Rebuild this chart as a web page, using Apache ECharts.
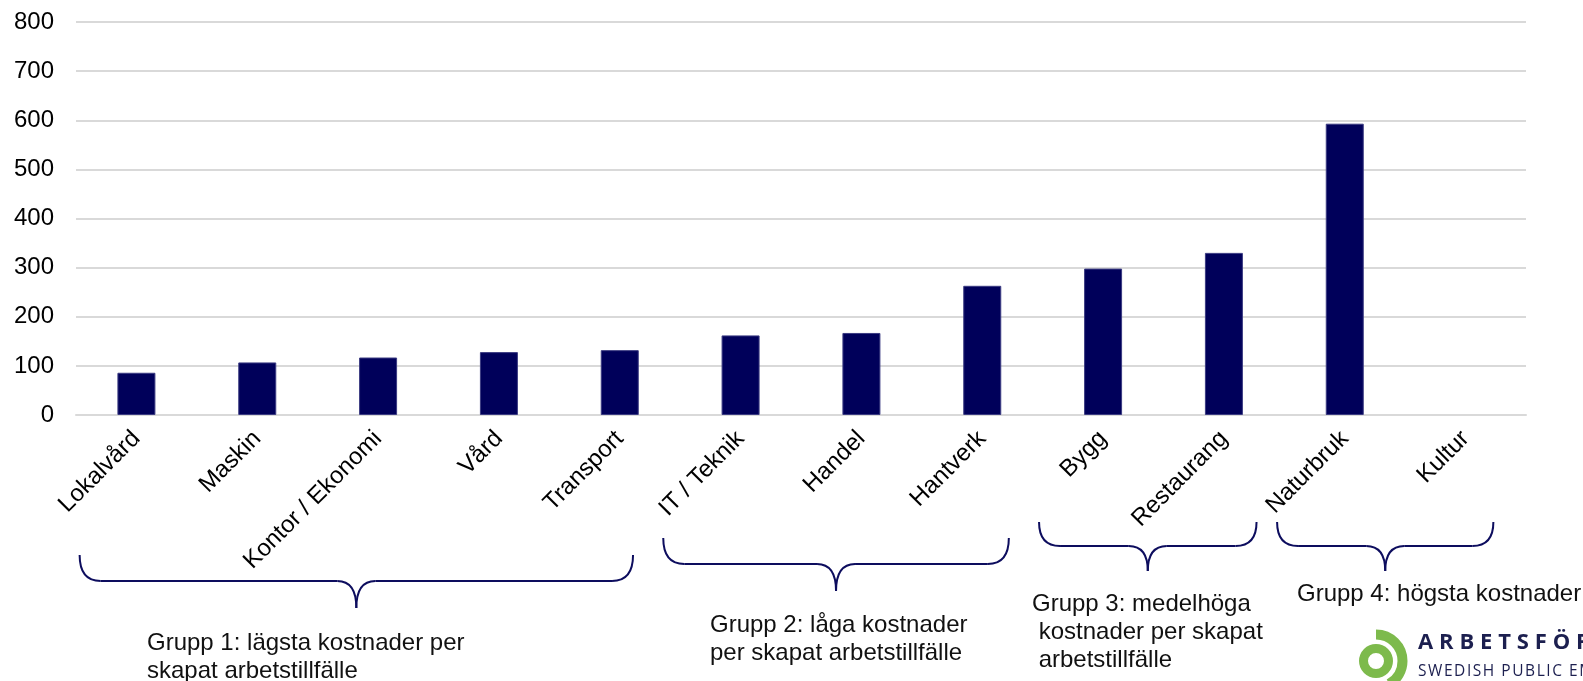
<!DOCTYPE html>
<html>
<head>
<meta charset="utf-8">
<title>Kostnad per skapat arbetstillfälle</title>
<script src="https://cdn.jsdelivr.net/npm/echarts@6/dist/echarts.min.js"></script>
<style>
html, body { margin: 0; padding: 0; background: #fff; }
#main { width: 1583px; height: 681px; }
</style>
</head>
<body>
<div id="main"></div>
<script>
// data
var yrken = ['Lokalvård', 'Maskin', 'Kontor / Ekonomi', 'Vård', 'Transport', 'IT / Teknik',
  'Handel', 'Hantverk', 'Bygg', 'Restaurang', 'Naturbruk', 'Kultur'];
var kostnad = [86, 107, 117, 128, 132, 162, 167, 263, 298, 330, 593, null];
var yMin = 0, yMax = 800, yStep = 100;

// grupper: första och sista yrke (index) + text
var gruppStart = [0, 5, 8, 10];
var gruppSlut = [4, 7, 9, 11];
var gruppText = [
  'Grupp 1: lägsta kostnader per\nskapat arbetstillfälle',
  'Grupp 2: låga kostnader\nper skapat arbetstillfälle',
  'Grupp 3: medelhöga\n kostnader per skapat\n arbetstillfälle',
  'Grupp 4: högsta kostnader'
];

var font = '"Liberation Sans", Arial, sans-serif';
var navy = '#0d0d5e';

var myChart = echarts.init(document.getElementById('main'));
var option = {
  animation: false,
  grid: {
    left: 76,
    right: 57,
    top: 22,
    bottom: 266,
    containLabel: false
  },
  xAxis: {
    type: 'category',
    data: yrken,
    axisTick: { show: false },
    axisLine: { lineStyle: { color: '#d9d9d9', width: 2 } },
    axisLabel: {
      interval: 0,
      rotate: 45,
      margin: 20,
      color: '#000',
      fontSize: 24,
      fontFamily: font
    }
  },
  yAxis: {
    type: 'value',
    min: yMin,
    max: yMax,
    interval: yStep,
    axisLine: { show: false },
    axisTick: { show: false },
    splitLine: { lineStyle: { color: '#d9d9d9', width: 2 } },
    axisLabel: {
      margin: 22,
      color: '#000',
      fontSize: 24,
      fontFamily: font
    }
  },
  series: [{
    type: 'bar',
    data: kostnad,
    barWidth: 38,
    itemStyle: {
      color: '#00005a',
      borderColor: '#3b3b82',
      borderWidth: 1
    }
  }]
};
myChart.setOption(option);

// klammerparenteser under axeln
var braceY = [[555, 581, 608], [538, 564, 591], [522, 546, 571], [522, 546, 571]];
var braceOff = [[-0.47, 0.11], [-0.64, 0.22], [-0.53, 0.27], [-0.56, 0.23]];
var textPos = [[147, 629], [710, 611], [1032, 590], [1297, 580]];

function px(i) {
  return myChart.convertToPixel({ xAxisIndex: 0 }, i);
}
var band = px(1) - px(0);

function brace(x0, x1, yt, yh, yb) {
  var xm = (x0 + x1) / 2, r = 21, t = 19;
  var ls = { stroke: navy, lineWidth: 2, fill: null };
  return [
    { type: 'bezierCurve', shape: { x1: x0, y1: yt, cpx1: x0, cpy1: yh, x2: x0 + r, y2: yh }, style: ls },
    { type: 'line', shape: { x1: x0 + r, y1: yh, x2: xm - t, y2: yh }, style: ls },
    { type: 'bezierCurve', shape: { x1: xm - t, y1: yh, cpx1: xm, cpy1: yh, x2: xm, y2: yb }, style: ls },
    { type: 'bezierCurve', shape: { x1: xm, y1: yb, cpx1: xm, cpy1: yh, x2: xm + t, y2: yh }, style: ls },
    { type: 'line', shape: { x1: xm + t, y1: yh, x2: x1 - r, y2: yh }, style: ls },
    { type: 'bezierCurve', shape: { x1: x1 - r, y1: yh, cpx1: x1, cpy1: yh, x2: x1, y2: yt }, style: ls }
  ];
}

var graphics = [];
for (var g = 0; g < gruppStart.length; g++) {
  var x0 = px(gruppStart[g]) + braceOff[g][0] * band;
  var x1 = px(gruppSlut[g]) + braceOff[g][1] * band;
  graphics = graphics.concat(brace(x0, x1, braceY[g][0], braceY[g][1], braceY[g][2]));
  graphics.push({
    type: 'text',
    x: textPos[g][0],
    y: textPos[g][1],
    style: {
      text: gruppText[g],
      font: '24px ' + font,
      lineHeight: 28,
      fill: '#111',
      textAlign: 'left',
      textVerticalAlign: 'top'
    }
  });
}

// logotyp
function spaced(s, sp) { return s.split('').join(sp); }
graphics.push(
  { type: 'ring', shape: { cx: 1376, cy: 661, r: 17, r0: 8 }, style: { fill: '#7dba4c' } },
  { type: 'arc', shape: { cx: 1376, cy: 661, r: 26.5, startAngle: -Math.PI / 2, endAngle: Math.PI / 3, clockwise: true },
    style: { stroke: '#7dba4c', lineWidth: 10, fill: null } },
  { type: 'text', x: 1418, y: 643,
    style: { text: spaced('ARBETSFÖRMEDLINGEN', '\u2009\u200A'), font: '700 22px "Open Sans", sans-serif', fill: '#1c1f4f', textVerticalAlign: 'middle' } },
  { type: 'text', x: 1418, y: 672,
    style: { text: spaced('SWEDISH PUBLIC EMPLOYMENT SERVICE', '\u200A'), font: '15.5px "Open Sans", sans-serif', fill: '#1c1f4f', textVerticalAlign: 'middle' } }
);

myChart.setOption({ graphic: graphics });

window.addEventListener('resize', function () {
  myChart.resize();
});
</script>
</body>
</html>
